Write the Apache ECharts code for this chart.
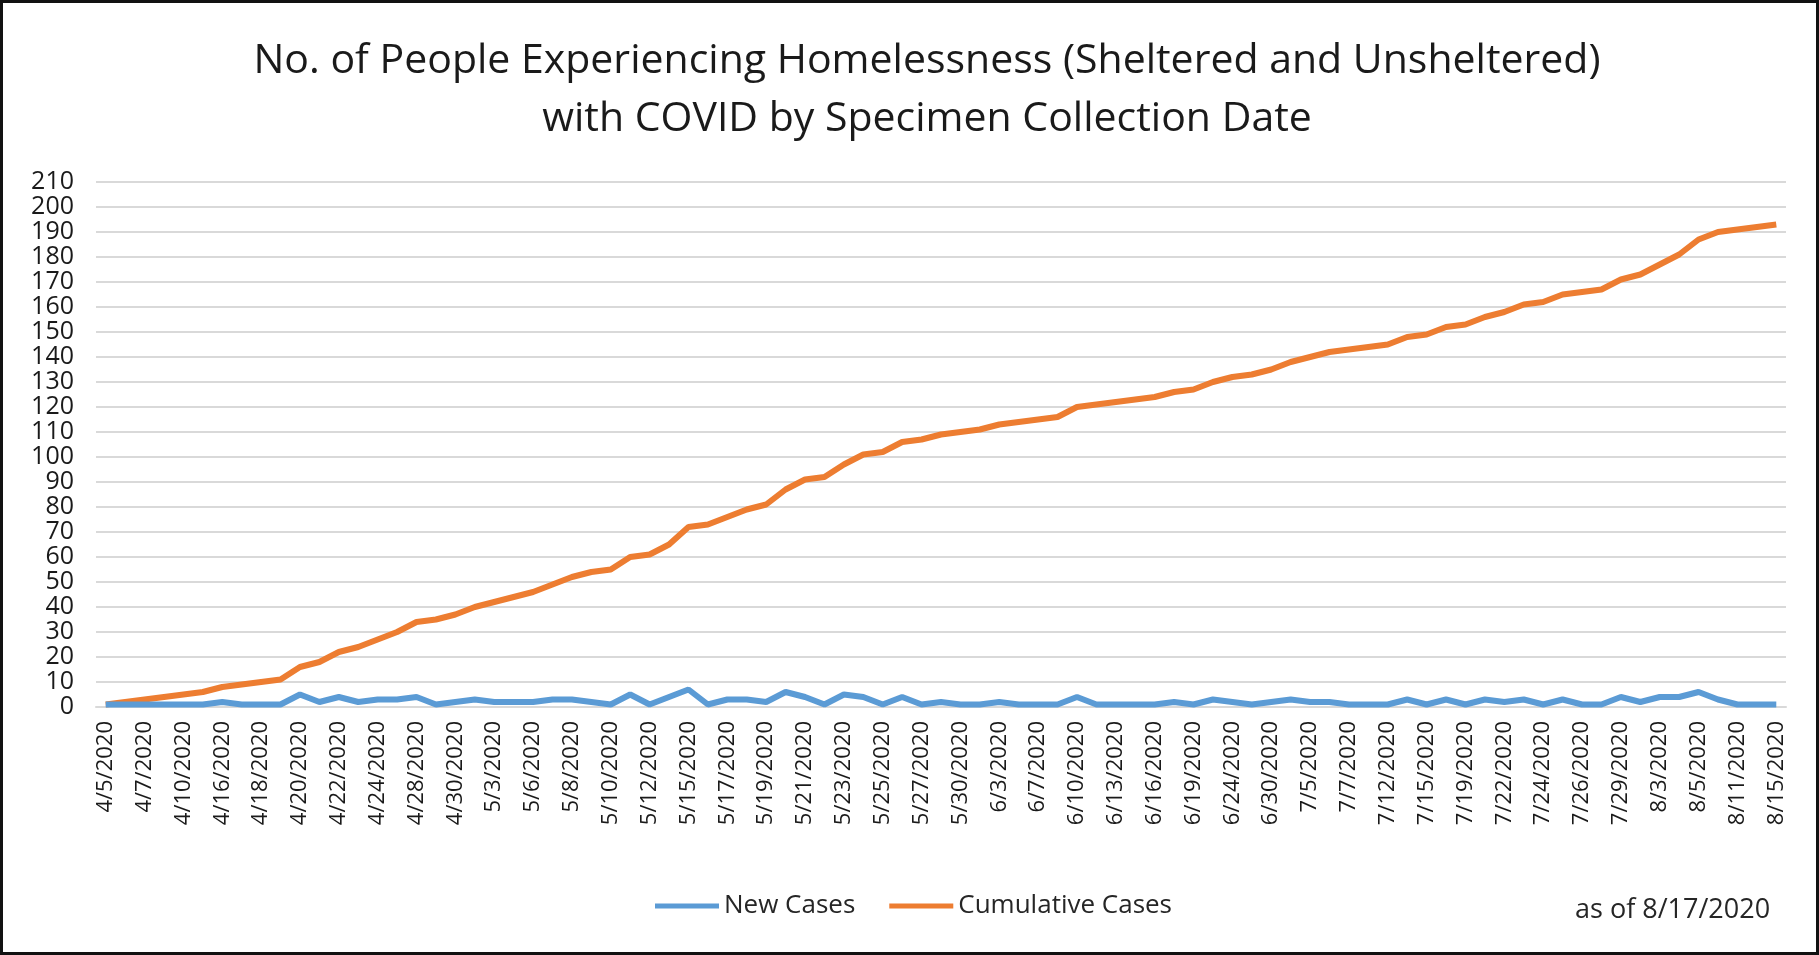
<!DOCTYPE html>
<html>
<head>
<meta charset="utf-8">
<script src="https://cdn.jsdelivr.net/npm/echarts@6/dist/echarts.min.js"></script>
<style>
html,body{margin:0;padding:0;background:#fff;}
#frame{position:absolute;left:0;top:0;width:1813px;height:949px;border:3px solid #111;}
#chart{position:absolute;left:0;top:0;width:1819px;height:955px;}
</style>
</head>
<body>
<div id="frame"></div>
<div id="chart"></div>
<script>
const titleText = 'No. of People Experiencing Homelessness (Sheltered and Unsheltered)\nwith COVID by Specimen Collection Date';
const noteText = 'as of 8/17/2020';
const seriesNames = ['New Cases', 'Cumulative Cases'];

const dates = [
 '4/5/2020','4/6/2020','4/7/2020','4/8/2020','4/10/2020','4/13/2020','4/16/2020','4/17/2020','4/18/2020','4/19/2020',
 '4/20/2020','4/21/2020','4/22/2020','4/23/2020','4/24/2020','4/27/2020','4/28/2020','4/29/2020','4/30/2020','5/1/2020',
 '5/3/2020','5/5/2020','5/6/2020','5/7/2020','5/8/2020','5/9/2020','5/10/2020','5/11/2020','5/12/2020','5/14/2020',
 '5/15/2020','5/16/2020','5/17/2020','5/18/2020','5/19/2020','5/20/2020','5/21/2020','5/22/2020','5/23/2020','5/24/2020',
 '5/25/2020','5/26/2020','5/27/2020','5/28/2020','5/30/2020','6/1/2020','6/3/2020','6/5/2020','6/7/2020','6/8/2020',
 '6/10/2020','6/11/2020','6/13/2020','6/15/2020','6/16/2020','6/17/2020','6/19/2020','6/22/2020','6/24/2020','6/26/2020',
 '6/30/2020','7/2/2020','7/5/2020','7/6/2020','7/7/2020','7/9/2020','7/12/2020','7/14/2020','7/15/2020','7/17/2020',
 '7/19/2020','7/21/2020','7/22/2020','7/23/2020','7/24/2020','7/25/2020','7/26/2020','7/28/2020','7/29/2020','7/31/2020',
 '8/3/2020','8/4/2020','8/5/2020','8/7/2020','8/11/2020','8/13/2020','8/15/2020'
];

const newCases = [
 1,1,1,1,1,1,2,1,1,1,
 5,2,4,2,3,3,4,1,2,3,
 2,2,2,3,3,2,1,5,1,4,
 7,1,3,3,2,6,4,1,5,4,
 1,4,1,2,1,1,2,1,1,1,
 4,1,1,1,1,2,1,3,2,1,
 2,3,2,2,1,1,1,3,1,3,
 1,3,2,3,1,3,1,1,4,2,
 4,4,6,3,1,1,1
];

const cumulativeCases = [
 1,2,3,4,5,6,8,9,10,11,
 16,18,22,24,27,30,34,35,37,40,
 42,44,46,49,52,54,55,60,61,65,
 72,73,76,79,81,87,91,92,97,101,
 102,106,107,109,110,111,113,114,115,116,
 120,121,122,123,124,126,127,130,132,133,
 135,138,140,142,143,144,145,148,149,152,
 153,156,158,161,162,165,166,167,171,173,
 177,181,187,190,191,192,193
];

const yMin = 0, yMax = 210, yStep = 10;

const chart = echarts.init(document.getElementById('chart'), null, {renderer: 'canvas'});
const FONT = '"Open Sans", "Noto Sans", sans-serif';
chart.setOption({
  backgroundColor: 'transparent',
  animation: false,
  title: {
    text: titleText,
    left: 922,
    top: 27,
    textAlign: 'center',
    textStyle: {fontFamily: FONT, fontSize: 41, fontWeight: 'normal', color: '#1a1a1a', lineHeight: 58}
  },
  legend: {
    data: seriesNames,
    left: 650,
    top: 888,
    itemWidth: 64,
    itemHeight: 5,
    itemGap: 34,
    icon: 'rect',
    textStyle: {fontFamily: FONT, fontSize: 26, color: '#262626'}
  },
  graphic: [{
    type: 'text',
    left: 1575,
    top: 897,
    style: {text: noteText, font: '27px "Open Sans", sans-serif', fill: '#262626'}
  }],
  grid: {left: 96, right: 33, top: 182, bottom: 248, containLabel: false},
  xAxis: {
    type: 'category',
    data: dates,
    boundaryGap: true,
    axisLine: {show: true, lineStyle: {color: '#d9d9d9', width: 2}},
    axisTick: {show: false},
    axisLabel: {interval: 1, rotate: 90, fontFamily: FONT, fontSize: 22, color: '#1a1a1a', margin: 14}
  },
  yAxis: {
    type: 'value',
    min: yMin, max: yMax, interval: yStep,
    axisLine: {show: false},
    axisTick: {show: false},
    splitLine: {lineStyle: {color: '#d9d9d9', width: 2}},
    axisLabel: {fontFamily: FONT, fontSize: 25, color: '#1a1a1a', margin: 22}
  },
  series: [
    {name: seriesNames[0], type: 'line', data: newCases, symbol: 'none', lineStyle: {color: '#5B9BD5', width: 6}, itemStyle: {color: '#5B9BD5'}, z: 3},
    {name: seriesNames[1], type: 'line', data: cumulativeCases, symbol: 'none', lineStyle: {color: '#ED7D31', width: 6}, itemStyle: {color: '#ED7D31'}, z: 2}
  ]
});
</script>
</body>
</html>
